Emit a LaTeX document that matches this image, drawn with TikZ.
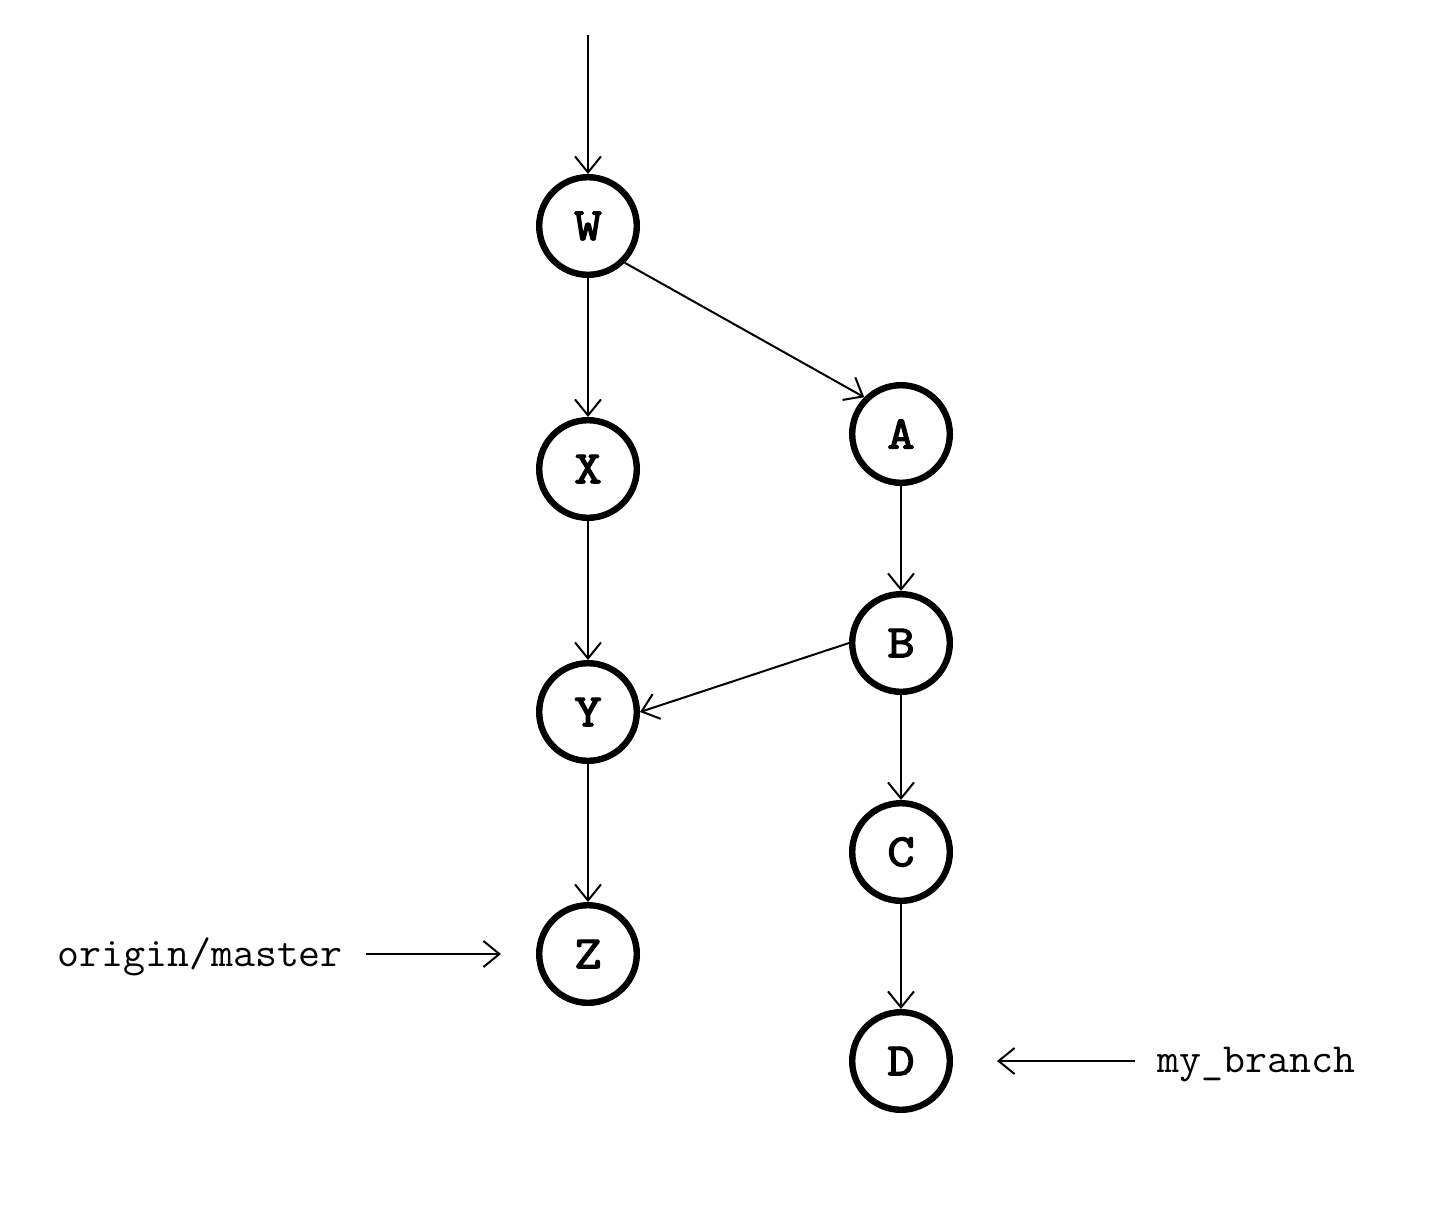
\documentclass[tikz,border=0pt]{standalone}
\usepackage{fontspec}
\newfontfamily\commitfont[FakeBold=3,FakeStretch=1.15]{Latin Modern Mono}
\newfontfamily\labelfont[FakeStretch=1.03]{Latin Modern Mono}
\usetikzlibrary{arrows.meta}
\begin{document}
\begin{tikzpicture}[x=0.5pt,y=-0.5pt,
  commit/.style={circle,draw,line width=3.2pt,minimum size=48.8pt,inner sep=0pt,
    font=\commitfont\fontsize{23}{25}\selectfont},
  lbl/.style={inner sep=0pt,font=\labelfont\fontsize{20.7}{23}\selectfont},
  edge/.style={line width=1pt,-{Straight Barb[length=8pt,width=13pt,line width=1pt]}}]
\useasboundingbox (0,0) rectangle (1440,1217);
\node[commit] (W) at (588,226) {W};
\node[commit] (X) at (588,469) {X};
\node[commit] (Y) at (588,712) {Y};
\node[commit] (Z) at (588,954) {Z};
\node[commit] (A) at (901,434) {A};
\node[commit] (B) at (901,643) {B};
\node[commit] (C) at (901,852) {C};
\node[commit] (D) at (901,1061) {D};
\coordinate (top) at (588,35);
\node[lbl,anchor=base west] (om) at (57,966) {origin/master};
\node[lbl,anchor=base west] (mb) at (1157,1072) {my\_branch};
\draw[edge] (top) -- (W);
\draw[edge] (W) -- (X);
\draw[edge] (W.south east) -- (A.north west);
\draw[edge] (X) -- (Y);
\draw[edge] (A) -- (B);
\draw[edge] (B.west) -- (Y.east);
\draw[edge] (B) -- (C);
\draw[edge] (Y) -- (Z);
\draw[edge] (C) -- (D);
\draw[edge,shorten <=11.5pt,shorten >=17.5pt] (om.east |- Z.west) -- (Z.west);
\draw[edge,shorten <=11pt,shorten >=22pt] (mb.west |- D.east) -- (D.east);
\end{tikzpicture}
\end{document}
